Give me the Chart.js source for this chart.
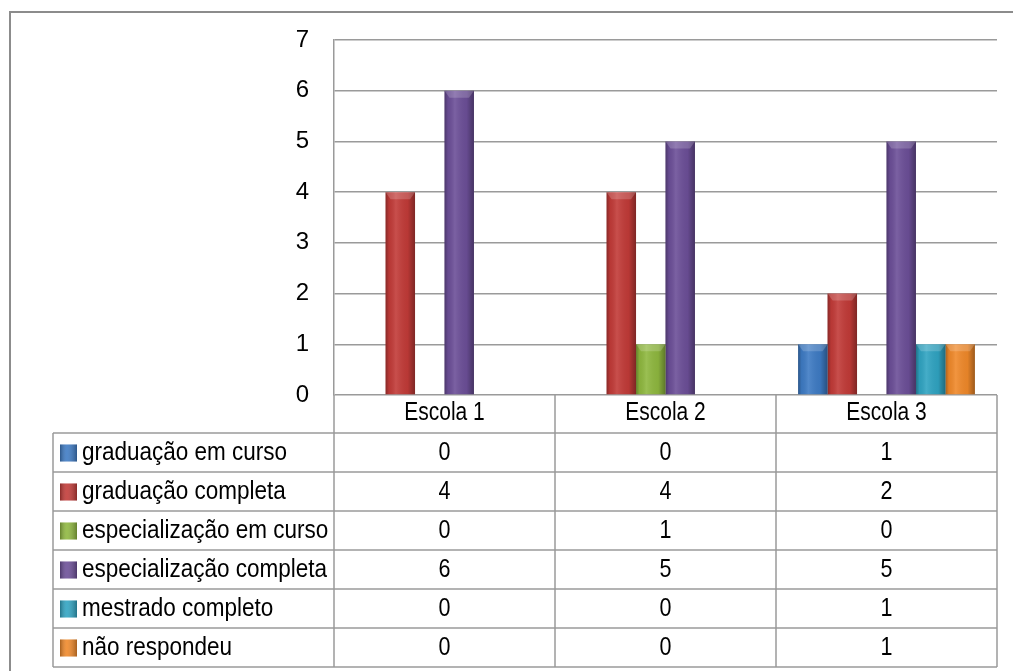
<!DOCTYPE html>
<html>
<head>
<meta charset="utf-8">
<script src="https://cdn.jsdelivr.net/npm/chart.js@4.4.1/dist/chart.umd.min.js"></script>
<style>
  html, body { margin: 0; padding: 0; background: #fff; }
  #wrap { width: 1013px; height: 671px; }
</style>
</head>
<body>
<div id="wrap"><canvas id="c" width="1013" height="671"></canvas></div>
<script>
const categories = ['Escola 1', 'Escola 2', 'Escola 3'];
const seriesNames = ['graduação em curso', 'graduação completa', 'especialização em curso',
                     'especialização completa', 'mestrado completo', 'não respondeu'];
const graduacaoEmCurso       = [0, 0, 1];
const graduacaoCompleta      = [4, 4, 2];
const especializacaoEmCurso  = [0, 1, 0];
const especializacaoCompleta = [6, 5, 5];
const mestradoCompleto       = [0, 0, 1];
const naoRespondeu           = [0, 0, 1];
const yTicks = [0, 1, 2, 3, 4, 5, 6, 7];

const seriesValues = [graduacaoEmCurso, graduacaoCompleta, especializacaoEmCurso,
                      especializacaoCompleta, mestradoCompleto, naoRespondeu];
const colors = ['#3E7BC4', '#C23B38', '#8FB83F', '#6C4F98', '#30A4C2', '#F0892A'];

const FONT = "'Liberation Sans', Arial, sans-serif";
const GRID = '#9a9a9a';
const ROW_H = 39;

// text squeezed sideways, the original font is a narrow one
function narrowText(ctx, txt, x, y, align, k) {
  ctx.save();
  ctx.translate(x, y);
  ctx.scale(k, 1);
  ctx.textAlign = align;
  ctx.fillText(txt, 0, 0);
  ctx.restore();
}

// shading over each bar, a bit like the old excel bevel look
const barShade = {
  id: 'barShade',
  afterDatasetsDraw(chart) {
    const ctx = chart.ctx;
    chart.data.datasets.forEach((ds, i) => {
      chart.getDatasetMeta(i).data.forEach(bar => {
        const h = bar.base - bar.y;
        if (h <= 0) return;
        const l = bar.x - bar.width / 2, r = bar.x + bar.width / 2;
        const g = ctx.createLinearGradient(l, 0, r, 0);
        g.addColorStop(0, 'rgba(0,0,0,0.30)');
        g.addColorStop(0.12, 'rgba(0,0,0,0.05)');
        g.addColorStop(0.35, 'rgba(255,255,255,0.10)');
        g.addColorStop(0.75, 'rgba(0,0,0,0.05)');
        g.addColorStop(1, 'rgba(0,0,0,0.35)');
        ctx.save();
        ctx.fillStyle = g;
        ctx.fillRect(l, bar.y, bar.width, h);
        ctx.fillStyle = 'rgba(255,255,255,0.18)';
        ctx.beginPath();
        ctx.moveTo(l, bar.y);
        ctx.lineTo(r, bar.y);
        ctx.lineTo(r - 5, bar.y + 7);
        ctx.lineTo(l + 5, bar.y + 7);
        ctx.closePath();
        ctx.fill();
        ctx.restore();
      });
    });
  }
};

// data table under the plot + frame
const dataTable = {
  id: 'dataTable',
  afterDraw(chart) {
    const ctx = chart.ctx;
    const x = chart.scales.x;
    const area = chart.chartArea;
    const colW = x.width / categories.length;
    const top = x.bottom;
    const tableLeft = 53;
    const bottom = top + ROW_H * seriesNames.length;

    ctx.save();
    ctx.strokeStyle = GRID;
    ctx.lineWidth = 1.5;
    ctx.beginPath();
    for (let i = 0; i <= categories.length; i++) {
      const px = Math.round(area.left + i * colW);
      ctx.moveTo(px, area.bottom);
      ctx.lineTo(px, bottom);
    }
    ctx.moveTo(tableLeft, top);
    ctx.lineTo(tableLeft, bottom);
    for (let j = 0; j <= seriesNames.length; j++) {
      const py = Math.round(top + j * ROW_H);
      ctx.moveTo(tableLeft, py);
      ctx.lineTo(area.right, py);
    }
    ctx.stroke();

    ctx.fillStyle = '#000';
    ctx.font = '25px ' + FONT;
    ctx.textBaseline = 'middle';
    // category header row
    categories.forEach((c, i) => {
      narrowText(ctx, c, x.getPixelForValue(i), area.bottom + 18, 'center', 0.84);
    });
    seriesNames.forEach((name, j) => {
      const cy = top + j * ROW_H + ROW_H / 2 + 1;
      const kx = 60, ky = cy - 9;
      ctx.fillStyle = colors[j];
      ctx.fillRect(kx, ky, 17, 17);
      const g = ctx.createLinearGradient(kx, 0, kx + 17, 0);
      g.addColorStop(0, 'rgba(0,0,0,0.3)');
      g.addColorStop(0.4, 'rgba(255,255,255,0.1)');
      g.addColorStop(1, 'rgba(0,0,0,0.3)');
      ctx.fillStyle = g;
      ctx.fillRect(kx, ky, 17, 17);
      ctx.fillStyle = '#000';
      narrowText(ctx, name, 82, cy, 'left', 0.9);
      seriesValues[j].forEach((v, i) => {
        narrowText(ctx, String(v), x.getPixelForValue(i), cy, 'center', 0.86);
      });
    });

    // outer frame of the chart object
    ctx.strokeStyle = '#8c8c8c';
    ctx.lineWidth = 2;
    ctx.beginPath();
    ctx.moveTo(10, chart.height);
    ctx.lineTo(10, 12);
    ctx.lineTo(chart.width, 12);
    ctx.stroke();
    ctx.restore();
  }
};

new Chart(document.getElementById('c'), {
  type: 'bar',
  data: {
    labels: categories,
    datasets: seriesNames.map((name, i) => ({
      label: name,
      data: seriesValues[i],
      backgroundColor: colors[i],
      categoryPercentage: 0.8,
      barPercentage: 1.0
    }))
  },
  options: {
    responsive: false,
    animation: false,
    events: [],
    layout: { padding: { left: 0, right: 16, top: 40, bottom: 671 - 433 } },
    plugins: { legend: { display: false }, tooltip: { enabled: false } },
    scales: {
      x: {
        grid: { display: false },
        border: { display: false },
        ticks: { display: false },
        afterFit: s => { s.height = 38; }
      },
      y: {
        min: 0, max: 7,
        afterBuildTicks: s => { s.ticks = yTicks.map(v => ({ value: v })); },
        grid: { color: GRID, lineWidth: 1.5, drawTicks: false },
        border: { color: GRID, width: 1.5 },
        ticks: { color: '#000', font: { family: FONT, size: 24 }, padding: 25 },
        afterFit: s => { s.width = 334; }
      }
    }
  },
  plugins: [barShade, dataTable]
});
</script>
</body>
</html>
